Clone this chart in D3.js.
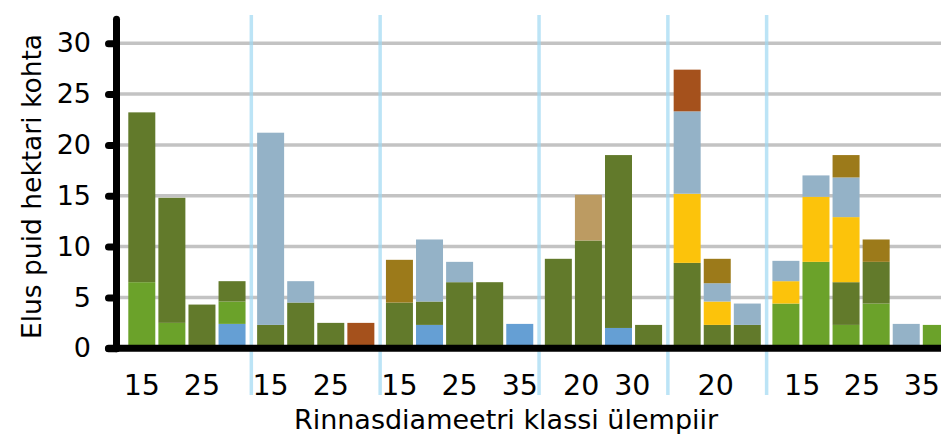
<!DOCTYPE html>
<html>
<head>
<meta charset="utf-8">
<script src="https://cdn.jsdelivr.net/npm/d3@7"></script>
<style>
  html, body { margin: 0; padding: 0; background: #fff; }
  svg { display: block; font-family: "DejaVu Sans", sans-serif; }
</style>
</head>
<body>
<svg id="chart" width="941" height="434"></svg>
<script>
// ---- data ----
// 26 bars in 6 groups (group index of each bar)
const barGroup = [0,0,0,0, 1,1,1,1, 2,2,2,2,2, 3,3,3,3, 4,4,4, 5,5,5,5,5,5];

// stacked series (bottom -> top), trees per hectare
const seriesKeys = ["sinine", "heleroheline", "tumeroheline", "pruunikas", "kollane", "hallsinine", "kuldne", "roostepruun"];
const sinine       = [0,0,0,2.4, 0,0,0,0, 0,2.3,0,0,2.4, 0,0,2.0,0, 0,0,0, 0,0,0,0,0,0];
const heleroheline = [6.5,2.5,0,2.2, 0,0,0,0, 0,0,0,0,0, 0,0,0,0, 0,0,0, 4.4,8.5,2.3,4.4,0,2.3];
const tumeroheline = [16.7,12.3,4.3,2.0, 2.3,4.5,2.5,0, 4.5,2.3,6.5,6.5,0, 8.8,10.6,17.0,2.3, 8.4,2.3,2.3, 0,0,4.2,4.1,0,0];
const pruunikas    = [0,0,0,0, 0,0,0,0, 0,0,0,0,0, 0,4.5,0,0, 0,0,0, 0,0,0,0,0,0];
const kollane      = [0,0,0,0, 0,0,0,0, 0,0,0,0,0, 0,0,0,0, 6.8,2.3,0, 2.2,6.4,6.4,0,0,0];
const hallsinine   = [0,0,0,0, 18.9,2.1,0,0, 0,6.1,2.0,0,0, 0,0,0,0, 8.1,1.8,2.1, 2.0,2.1,3.9,0,2.4,0];
const kuldne       = [0,0,0,0, 0,0,0,0, 4.2,0,0,0,0, 0,0,0,0, 0,2.4,0, 0,0,2.2,2.2,0,0];
const roostepruun  = [0,0,0,0, 0,0,0,2.5, 0,0,0,0,0, 0,0,0,0, 4.1,0,0, 0,0,0,0,0,0];

const seriesColors = ["#659fd4", "#6ba22a", "#627a2b", "#bc9b62", "#fcc30b", "#94b2c7", "#9c7a1a", "#a5511c"];

// x tick labels: group, offset (in bar slots from the group's first bar), text
const tickGroup  = [0, 0, 1, 1, 2, 2, 2, 3, 3, 4, 5, 5, 5];
const tickOffset = [0, 2, 0, 2, 0, 2, 4, 0.76, 2.46, 0.95, 0.54, 2.53, 4.52];
const tickLabels = ["15","25","15","25","15","25","35","20","30","20","15","25","35"];

const yTicks = [0, 5, 10, 15, 20, 25, 30];
const yTitle = "Elus puid hektari kohta";
const xTitle = "Rinnasdiameetri klassi ülempiir";

// ---- layout ----
const svg = d3.select("#chart");
const axisX = 116, baseY = 348.3;
const gapRatio = 0.2826;       // extra gap between groups, in bar slots
const barW = 27;

const y = d3.scaleLinear().domain([0, 32.4]).range([baseY, 18.8]);
const x = d3.scaleLinear().domain([0, 1]).range([141.8, 171.88]);

const seriesData = {sinine, heleroheline, tumeroheline, pruunikas, kollane, hallsinine, kuldne, roostepruun};
const rows = barGroup.map((g, i) => {
  const r = {i, g, pos: i + g * gapRatio};
  seriesKeys.forEach(k => r[k] = seriesData[k][i]);
  return r;
});
const firstIndex = d3.range(6).map(g => barGroup.indexOf(g));
const lastIndex = d3.range(6).map(g => barGroup.lastIndexOf(g));

// gridlines
svg.append("g").selectAll("line")
  .data(yTicks.filter(t => t > 0))
  .join("line")
  .attr("x1", axisX).attr("x2", 941)
  .attr("y1", d => y(d)).attr("y2", d => y(d))
  .attr("stroke", "#c3c3c3").attr("stroke-width", 3.5);

// group separators
svg.append("g").selectAll("line")
  .data(d3.range(5))
  .join("line")
  .attr("x1", g => x(lastIndex[g] + g * gapRatio + (1 + gapRatio) / 2))
  .attr("x2", g => x(lastIndex[g] + g * gapRatio + (1 + gapRatio) / 2))
  .attr("y1", 15).attr("y2", 395)
  .attr("stroke", "#a0d8f2").attr("stroke-opacity", 0.7).attr("stroke-width", 3.5);

// bars
const stacked = d3.stack().keys(seriesKeys)(rows);
svg.append("g").selectAll("g")
  .data(stacked)
  .join("g")
  .attr("fill", (d, k) => seriesColors[k])
  .selectAll("rect")
  .data(d => d.filter(s => s[1] - s[0] > 0))
  .join("rect")
  .attr("x", s => x(s.data.pos) - barW / 2)
  .attr("width", barW)
  .attr("y", s => y(s[1]))
  .attr("height", s => y(s[0]) - y(s[1]));

// y axis
const yAxis = d3.axisLeft(y).tickValues(yTicks).tickSize(7.5).tickSizeOuter(0).tickPadding(17.5);
const gy = svg.append("g").attr("transform", `translate(${axisX},0)`).call(yAxis);
gy.select(".domain").attr("stroke", "#000").attr("stroke-width", 7).attr("stroke-linecap", "round");
gy.selectAll(".tick line").attr("stroke", "#000").attr("stroke-width", 7).attr("stroke-linecap", "round");
gy.selectAll(".tick text").attr("font-size", 27).attr("fill", "#000")
  .attr("font-family", "DejaVu Sans, sans-serif");

// x axis line
svg.append("line")
  .attr("x1", 108.5).attr("x2", 950)
  .attr("y1", y(0)).attr("y2", y(0))
  .attr("stroke", "#000").attr("stroke-width", 7).attr("stroke-linecap", "round");

// x tick labels
svg.append("g").selectAll("text")
  .data(tickLabels)
  .join("text")
  .attr("x", (t, j) => x(firstIndex[tickGroup[j]] + tickGroup[j] * gapRatio + tickOffset[j]))
  .attr("y", 395)
  .attr("text-anchor", "middle")
  .attr("font-size", 28.5)
  .attr("fill", "#000")
  .text(t => t);

// axis titles
svg.append("text")
  .attr("x", 506).attr("y", 428.5)
  .attr("text-anchor", "middle")
  .attr("font-size", 27)
  .attr("fill", "#000")
  .text(xTitle);

svg.append("text")
  .attr("transform", "translate(40.7,186.5) rotate(-90)")
  .attr("text-anchor", "middle")
  .attr("font-size", 26.5)
  .attr("fill", "#000")
  .text(yTitle);
</script>
</body>
</html>
